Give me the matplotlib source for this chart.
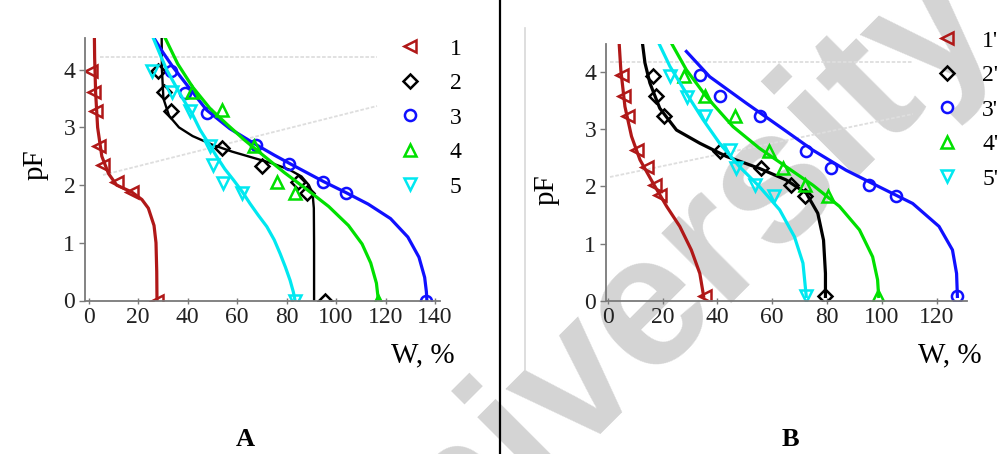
import matplotlib
matplotlib.use('Agg')
import matplotlib.pyplot as plt
from matplotlib.lines import Line2D

plt.rcParams['font.family'] = ['Liberation Serif', 'DejaVu Serif']

# ---- panel A : measured points ----
w1 = [1.0, 2.0, 3.0, 4.0, 5.6, 11.3, 17.4, 27.5]
pf1 = [3.97, 3.62, 3.28, 2.67, 2.35, 2.05, 1.88, 0.0]
w2 = [28.2, 30.6, 33.3, 53.8, 70.2, 84.4, 88.1, 95.6]
pf2 = [3.97, 3.62, 3.28, 2.64, 2.33, 2.05, 1.87, 0.0]
w3 = [33.3, 38.9, 47.7, 67.7, 81.0, 94.9, 104.0, 136.3]
pf3 = [3.97, 3.59, 3.25, 2.70, 2.37, 2.05, 1.87, 0.0]
w4 = [41.6, 53.8, 67.0, 76.3, 83.4, 117.1]
pf4 = [3.62, 3.30, 2.68, 2.05, 1.87, 0.0]
w5 = [25.5, 33.6, 41.0, 48.9, 50.4, 54.4, 61.9, 83.4]
pf5 = [3.97, 3.62, 3.28, 2.67, 2.35, 2.03, 1.86, 0.0]

# ---- panel A : fitted curves ----
cw1 = [2.3, 2.4, 2.8, 3.6, 5.3, 8.0, 11.3, 17.4, 21.5, 24.1, 26.4, 27.2, 27.5, 27.6]
cpf1 = [4.55, 4.2, 3.6, 3.0, 2.5, 2.2, 2.0, 1.88, 1.75, 1.6, 1.3, 1.0, 0.5, 0.0]
cw2 = [29.5, 29.6, 30.2, 32.5, 36.5, 42, 50, 58, 66, 74, 81, 86, 89, 90.5, 91, 91.1, 91.1]
cpf2 = [4.55, 4.0, 3.5, 3.2, 3.0, 2.85, 2.7, 2.58, 2.48, 2.38, 2.27, 2.15, 2.0, 1.85, 1.6, 1.0, 0.0]
cw3 = [26.8, 30, 34, 40, 47.7, 57, 67.7, 75, 81, 88, 95, 104, 113, 122, 129, 133.5, 135.8, 136.5, 136.7]
cpf3 = [4.52, 4.3, 4.05, 3.72, 3.3, 2.98, 2.7, 2.52, 2.38, 2.22, 2.06, 1.87, 1.67, 1.42, 1.1, 0.75, 0.4, 0.15, 0.0]
cw4 = [30.9, 36, 42, 49, 56, 63, 71, 79, 88, 97, 105, 110.5, 114, 116.3, 117.1]
cpf4 = [4.55, 4.1, 3.7, 3.33, 3.05, 2.78, 2.5, 2.22, 1.93, 1.63, 1.3, 0.98, 0.65, 0.3, 0.0]
cw5 = [26.1, 29, 31.5, 35, 38.3, 42, 45, 48.5, 51.8, 55, 58.5, 62, 65.2, 68.5, 72, 75, 77.4, 79.5, 81.4, 82.7, 83.4]
cpf5 = [4.55, 4.25, 4.0, 3.73, 3.48, 3.22, 2.96, 2.72, 2.49, 2.28, 2.09, 1.89, 1.68, 1.48, 1.28, 1.05, 0.81, 0.58, 0.35, 0.15, 0.0]

# ---- panel B : measured points ----
v1 = [5.1, 6.1, 7.5, 10.8, 14.2, 17.2, 19.0, 35.4]
q1 = [3.94, 3.58, 3.23, 2.63, 2.33, 2.03, 1.85, 0.08]
v2 = [16.6, 17.5, 20.6, 41.1, 56.0, 66.9, 72.0, 79.4]
q2 = [3.93, 3.58, 3.22, 2.62, 2.31, 2.02, 1.83, 0.08]
v3 = [33.6, 40.8, 55.4, 72.4, 81.5, 95.4, 105.1, 127.5]
q3 = [3.94, 3.58, 3.22, 2.62, 2.31, 2.03, 1.83, 0.08]
v4 = [27.8, 35.6, 46.5, 58.7, 64.1, 72.0, 80.2, 98.4]
q4 = [3.93, 3.58, 3.22, 2.62, 2.31, 2.02, 1.83, 0.08]
v5 = [22.7, 29.0, 35.6, 44.5, 46.9, 53.8, 60.8, 72.4]
q5 = [3.93, 3.55, 3.22, 2.63, 2.31, 2.02, 1.83, 0.08]

# ---- panel B : fitted curves ----
cv1 = [4.2, 4.8, 6.3, 8.7, 11.8, 16.6, 21.5, 26.3, 30.5, 33.6, 35.0]
cq1 = [4.49, 4.03, 3.39, 2.87, 2.46, 2.05, 1.65, 1.30, 0.89, 0.48, 0.08]
cv2 = [12.7, 13.6, 15.4, 19.0, 25.1, 33.6, 43.3, 55.4, 65.1, 72.4, 76.6, 78.7, 79.4, 79.4]
cq2 = [4.49, 4.15, 3.80, 3.36, 2.98, 2.75, 2.52, 2.31, 2.11, 1.88, 1.53, 1.06, 0.48, 0.08]
cv3 = [28.7, 37.2, 50.5, 62.7, 74.8, 86.9, 99.0, 111.2, 120.8, 125.7, 127.2, 127.5]
cq3 = [4.35, 3.91, 3.45, 3.04, 2.63, 2.28, 1.99, 1.70, 1.30, 0.89, 0.48, 0.08]
cv4 = [23.3, 28.7, 36.0, 45.7, 55.4, 65.1, 74.8, 84.5, 91.8, 96.6, 98.4, 98.8]
cq4 = [4.49, 4.03, 3.56, 3.04, 2.66, 2.34, 2.02, 1.65, 1.24, 0.77, 0.37, 0.08]
cv5 = [18.7, 22.7, 28.7, 34.8, 40.8, 48.1, 55.4, 62.7, 68.1, 71.2, 72.4]
cq5 = [4.49, 4.09, 3.62, 3.16, 2.75, 2.34, 1.99, 1.59, 1.12, 0.66, 0.08]

labels_a = ['1', '2', '3', '4', '5']
labels_b = ["1'", "2'", "3'", "4'", "5'"]
colors = ['#b01818', 'black', '#1010ff', '#00e000', '#00e8f0']
markers = ['<', 'D', 'o', '^', 'v']
msizes = [8, 7, 8, 8, 8]

W, H = 1005, 454
fig = plt.figure(figsize=(W / 100, H / 100), dpi=100)


def fx(px):
    return px / W


def fy(py):
    return 1 - py / H


# watermark and scan artefacts behind everything
fig.text(fx(645), fy(310), 'University', rotation=45, ha='center', va='center',
         fontsize=135, color='#d4d4d4', family='Liberation Sans', fontweight='bold', zorder=-2)
for (x0, y0, x1, y1) in [(100, 57, 377, 57), (103, 175, 377, 106),
                         (610, 62, 913, 62), (610, 177, 913, 114)]:
    fig.add_artist(Line2D([fx(x0), fx(x1)], [fy(y0), fy(y1)], color='#dedede', lw=1.3,
                          ls=(0, (2, 1)), zorder=-1))
fig.add_artist(Line2D([fx(525), fx(525)], [fy(28), fy(370)], color='#d8d8d8', lw=1.2, zorder=-1))
fig.add_artist(Line2D([fx(500), fx(500)], [0, 1], color='black', lw=1.6, zorder=5))

axA = fig.add_axes([fx(85), fy(300.5), fx(440) - fx(85), fy(38) - fy(300.5)])
axB = fig.add_axes([fx(606), fy(301), fx(967) - fx(606), fy(44) - fy(301)])

pts_a = [(w1, pf1), (w2, pf2), (w3, pf3), (w4, pf4), (w5, pf5)]
crv_a = [(cw1, cpf1), (cw2, cpf2), (cw3, cpf3), (cw4, cpf4), (cw5, cpf5)]
pts_b = [(v1, q1), (v2, q2), (v3, q3), (v4, q4), (v5, q5)]
crv_b = [(cv1, cq1), (cv2, cq2), (cv3, cq3), (cv4, cq4), (cv5, cq5)]

for ax, pts, crv, labs in [(axA, pts_a, crv_a, labels_a), (axB, pts_b, crv_b, labels_b)]:
    ax.set_facecolor('none')
    for i in range(5):
        lw = 1.7 if (ax is axA and i == 1) else 2.3
        ax.plot(crv[i][0], crv[i][1], color=colors[i], lw=lw, solid_joinstyle='round')
        ax.plot(pts[i][0], pts[i][1], ls='none', marker=markers[i], ms=msizes[i],
                mfc='none', mec=colors[i], mew=1.8, label=labs[i])
    for s in ['top', 'right']:
        ax.spines[s].set_visible(False)
    for s in ['left', 'bottom']:
        ax.spines[s].set_color('#7a7a7a')
        ax.spines[s].set_linewidth(1.3)
    ax.tick_params(axis='x', direction='inout', length=5, width=1, colors='#7a7a7a',
                   labelcolor='#222222', labelsize=17, pad=2)
    ax.tick_params(axis='y', direction='out', length=4, width=1, colors='#7a7a7a',
                   labelcolor='#222222', labelsize=17, pad=3)
    ax.set_yticks([0, 1, 2, 3, 4])

axA.set_xlim(-1.5, 142)
axA.set_ylim(0, 4.55)
axA.set_xticks([0, 20, 40, 60, 80, 100, 120, 140])
axB.set_xlim(-0.6, 131)
axB.set_ylim(0, 4.48)
axB.set_xticks([0, 20, 40, 60, 80, 100, 120])

axA.legend(loc='upper left', bbox_to_anchor=(fx(398), fy(38)), bbox_transform=fig.transFigure,
           frameon=False, fontsize=17, numpoints=1, handlelength=1.0, handletextpad=1.2,
           labelspacing=0.55, borderpad=0, borderaxespad=0)
axB.legend(loc='upper left', bbox_to_anchor=(fx(935), fy(30)), bbox_transform=fig.transFigure,
           frameon=False, fontsize=17, numpoints=1, handlelength=1.0, handletextpad=1.0,
           labelspacing=0.55, borderpad=0, borderaxespad=0)

fig.text(fx(36), fy(165), 'pF', rotation=90, ha='center', va='center', fontsize=21)
fig.text(fx(547), fy(190), 'pF', rotation=90, ha='center', va='center', fontsize=21)
fig.text(fx(423), fy(355), 'W, %', ha='center', va='center', fontsize=21)
fig.text(fx(950), fy(355), 'W, %', ha='center', va='center', fontsize=21)
fig.text(fx(245), fy(440), 'A', ha='center', va='center', fontsize=19, fontweight='bold')
fig.text(fx(790), fy(440), 'B', ha='center', va='center', fontsize=19, fontweight='bold')

fig.savefig('out.png', dpi=100)
